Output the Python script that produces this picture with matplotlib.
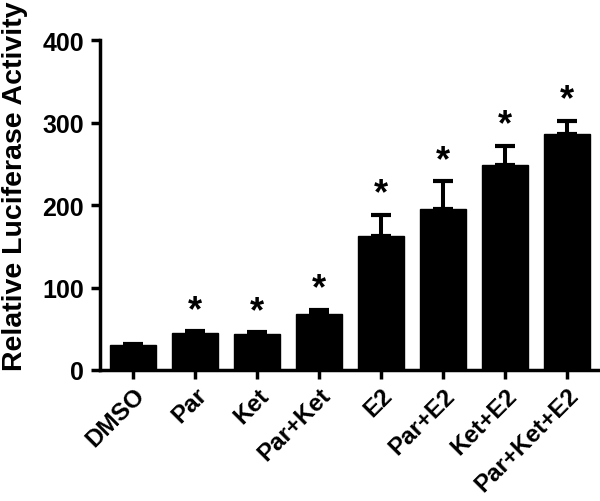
import matplotlib
matplotlib.use("Agg")
import matplotlib.pyplot as plt
import numpy as np

# Datos
grupos = ["DMSO", "Par", "Ket", "Par+Ket", "E2", "Par+E2", "Ket+E2", "Par+Ket+E2"]
valores = [30, 45, 44, 68, 162, 195, 248, 286]
errores = [2, 2, 2, 5, 26, 34, 24, 16]
signif = [False, True, True, True, True, True, True, True]

plt.rcParams["font.family"] = ["Liberation Sans", "DejaVu Sans"]
plt.rcParams["font.weight"] = "bold"

fig = plt.figure(figsize=(6, 5.02), dpi=100)
ax = fig.add_axes([0.167, 0.261, 0.83, 0.657])

x = np.arange(len(grupos))
ax.bar(x, valores, width=0.74, color="black", edgecolor="black", zorder=2)
ax.errorbar(x, valores, yerr=[np.zeros(len(errores)), errores], fmt="none",
            ecolor="black", elinewidth=2.9, capsize=7.2, capthick=3.0, zorder=1)

for xi, v, e, s in zip(x, valores, errores, signif):
    if s:
        ax.text(xi, v + e + 4, "*", ha="center", va="bottom",
                fontsize=26, fontweight="bold")

ax.set_xlim(-0.53, 7.5)
ax.set_ylim(0, 400)
ax.set_yticks([0, 100, 200, 300, 400])
ax.set_xticks(x)
ax.set_xticklabels(grupos, rotation=45, ha="right", rotation_mode="anchor",
                   fontsize=17.5, fontweight="bold")
ax.tick_params(axis="y", labelsize=18, width=2.5, length=6.5, pad=5)
ax.tick_params(axis="x", width=2.5, length=6.5, pad=3)
ax.set_ylabel("Relative Luciferase Activity", fontsize=20.5, fontweight="bold")
ax.yaxis.set_label_coords(-0.145, 0.56)

for s in ("top", "right"):
    ax.spines[s].set_visible(False)
for s in ("left", "bottom"):
    ax.spines[s].set_linewidth(2.5)

fig.savefig("out.png", dpi=100)
